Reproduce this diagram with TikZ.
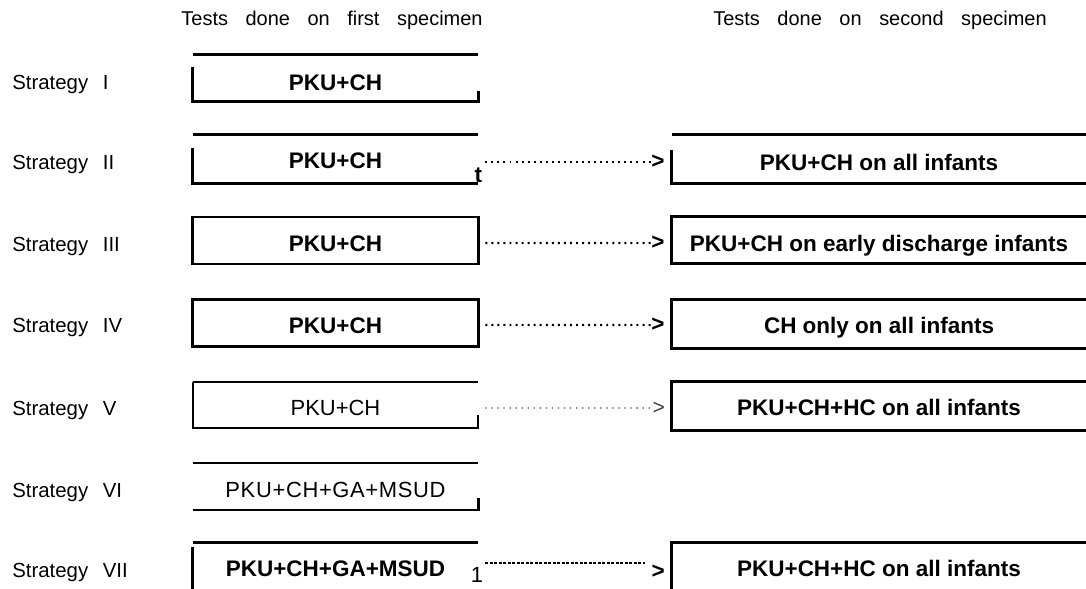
\documentclass[tikz,border=0pt]{standalone}
\usepackage{fontspec}
\setmainfont{Liberation Sans}
\usetikzlibrary{positioning,calc}

\tikzset{
  strat/.style={anchor=base west, inner sep=0pt, font={\fontsize{14.5}{17}\selectfont\spaceskip=0.72em\relax}},
  head/.style={anchor=base, inner sep=0pt, font={\fontsize{14.2}{17}\selectfont\spaceskip=0.88em\relax}},
  firstbox/.style={minimum width=7.125cm, minimum height=1.15cm, inner sep=0pt, text height=15pt, text depth=0pt, font=\fontsize{16}{19}\selectfont\bfseries},
  secondbox/.style={minimum width=10.35cm, minimum height=1.2cm, inner sep=0pt, text height=15.5pt, text depth=0pt, font=\fontsize{16}{19}\selectfont\bfseries},
  lightfont/.style={font=\fontsize{15.6}{19}\selectfont},
  boxline/.style={line width=1.8pt},
  lightline/.style={line width=1.3pt},
  dotline/.style={line width=1.6pt, dash pattern=on 1.4pt off 2.9pt, shorten <=0.175cm, shorten >=0.5cm},
  lightdots/.style={line width=0.9pt, black!75, dash pattern=on 0.9pt off 3.4pt, shorten <=0.175cm, shorten >=0.5cm},
  dashline/.style={line width=1.3pt, dash pattern=on 2.2pt off 1pt, shorten <=0.175cm, shorten >=0.675cm},
  gt/.style={anchor=east, inner sep=0pt, xshift=-0.15cm, font=\fontsize{16}{19}\selectfont\bfseries}
}

\begin{document}
\begin{tikzpicture}[x=0.025cm, y=-0.025cm]

  \useasboundingbox (0,0) rectangle (1086,588);

  % Headings
  \node[head] (h1) at (332,25) {Tests done on first specimen};
  \node[head] (h2) at (880,25) {Tests done on second specimen};

  % Strategy names
  \foreach \y/\lbl in {82/I, 162/II, 244/III, 325/IV, 408/V, 490/VI, 570/VII} {
    \node[strat] (s\lbl) at (12,\y+7) {Strategy \lbl};
  }

  % First specimen
  \node[firstbox, text height=17.5pt] (L1) at (335.5,78) {PKU+CH};
  \node[firstbox, minimum height=1.2cm, text height=13pt] (L2) at (335.5,159) {PKU+CH};
  \node[firstbox] (L3) at (335.5,240.5) {PKU+CH};
  \node[firstbox] (L4) at (335.5,323) {PKU+CH};
  \node[firstbox, lightfont] (L5) at (335.5,405) {PKU+CH};
  \node[firstbox, lightfont] (L6) at (335.5,486.5) {\addfontfeature{LetterSpace=3}PKU+CH+GA+MSUD};
  \node[firstbox] (L7) at (335.5,566) {PKU+CH+GA+MSUD};

  % Second specimen
  \node[secondbox, text height=16.5pt] (R2) at (879,159) {PKU+CH on all infants};
  \node[secondbox, minimum height=1.15cm, text height=16.5pt] (R3) at (879,240) {PKU+CH on early discharge infants};
  \node[secondbox, text height=13pt] (R4) at (879,324) {CH only on all infants};
  \node[secondbox, text height=13pt] (R5) at (879,406) {PKU+CH+HC on all infants};
  \node[secondbox, minimum height=1.15cm] (R7) at (879,566) {PKU+CH+HC on all infants};

  % Box edges, first specimen
  \draw[boxline] (L1.north west) -- (L1.north east);
  \draw[boxline] ($(L1.north west)+(0,12)$) -- (L1.south west) -- (L1.south east) -- ++(0,-10);
  \draw[boxline] (L2.north west) -- (L2.north east);
  \draw[boxline] ($(L2.north west)+(0,13)$) -- (L2.south west) -- (L2.south east);
  \node[anchor=south, inner sep=0pt, font=\fontsize{16}{19}\selectfont\bfseries] (t2) at (L2.south east) {t};
  \draw[boxline] (L3.north west) rectangle (L3.south east);
  \draw[boxline] (L4.north west) rectangle (L4.south east);
  \draw[lightline] (L5.north west) -- (L5.north east);
  \draw[lightline] (L5.north west) -- (L5.south west) -- (L5.south east) -- ++(0,-13);
  \draw[boxline] (L6.north west) -- (L6.north east);
  \draw[boxline] (L6.south west) -- (L6.south east) -- ++(0,-12);
  \draw[boxline] (L7.north west) -- (L7.north east);
  \draw[boxline] ($(L7.north west)+(0,4)$) -- (L7.south west);
  \node[inner sep=0pt, lightfont] (one7) at (477,575) {1};

  % Box edges, second specimen
  \draw[boxline] (R2.north west) -- (R2.north east);
  \draw[boxline] ($(R2.north west)+(0,15)$) -- (R2.south west) -- (R2.south east);
  \foreach \r in {R3, R4, R5} {
    \draw[boxline] (\r.north east) -- (\r.north west) -- (\r.south west) -- (\r.south east);
  }
  \draw[boxline] (R7.north east) -- (R7.north west) -- (R7.south west);

  % Arrows between specimens
  \draw[dotline] ([yshift=-0.075cm]L2.east) -- ([yshift=-0.075cm]R2.west) node[gt] {>};
  \draw[dotline] ([yshift=-0.06cm]L3.east) -- ([yshift=-0.075cm]R3.west) node[gt] {>};
  \draw[dotline] ([yshift=-0.05cm]L4.east) -- ([yshift=-0.025cm]R4.west) node[gt] {>};
  \draw[lightdots] ([yshift=-0.075cm]L5.east) -- ([yshift=-0.05cm]R5.west) node[gt, font=\fontsize{15}{18}\selectfont] {>};
  \draw[dashline] ([yshift=0.075cm]L7.east) -- ([yshift=0.075cm]R7.west) node[gt, yshift=-0.225cm] {>};

\end{tikzpicture}
\end{document}
